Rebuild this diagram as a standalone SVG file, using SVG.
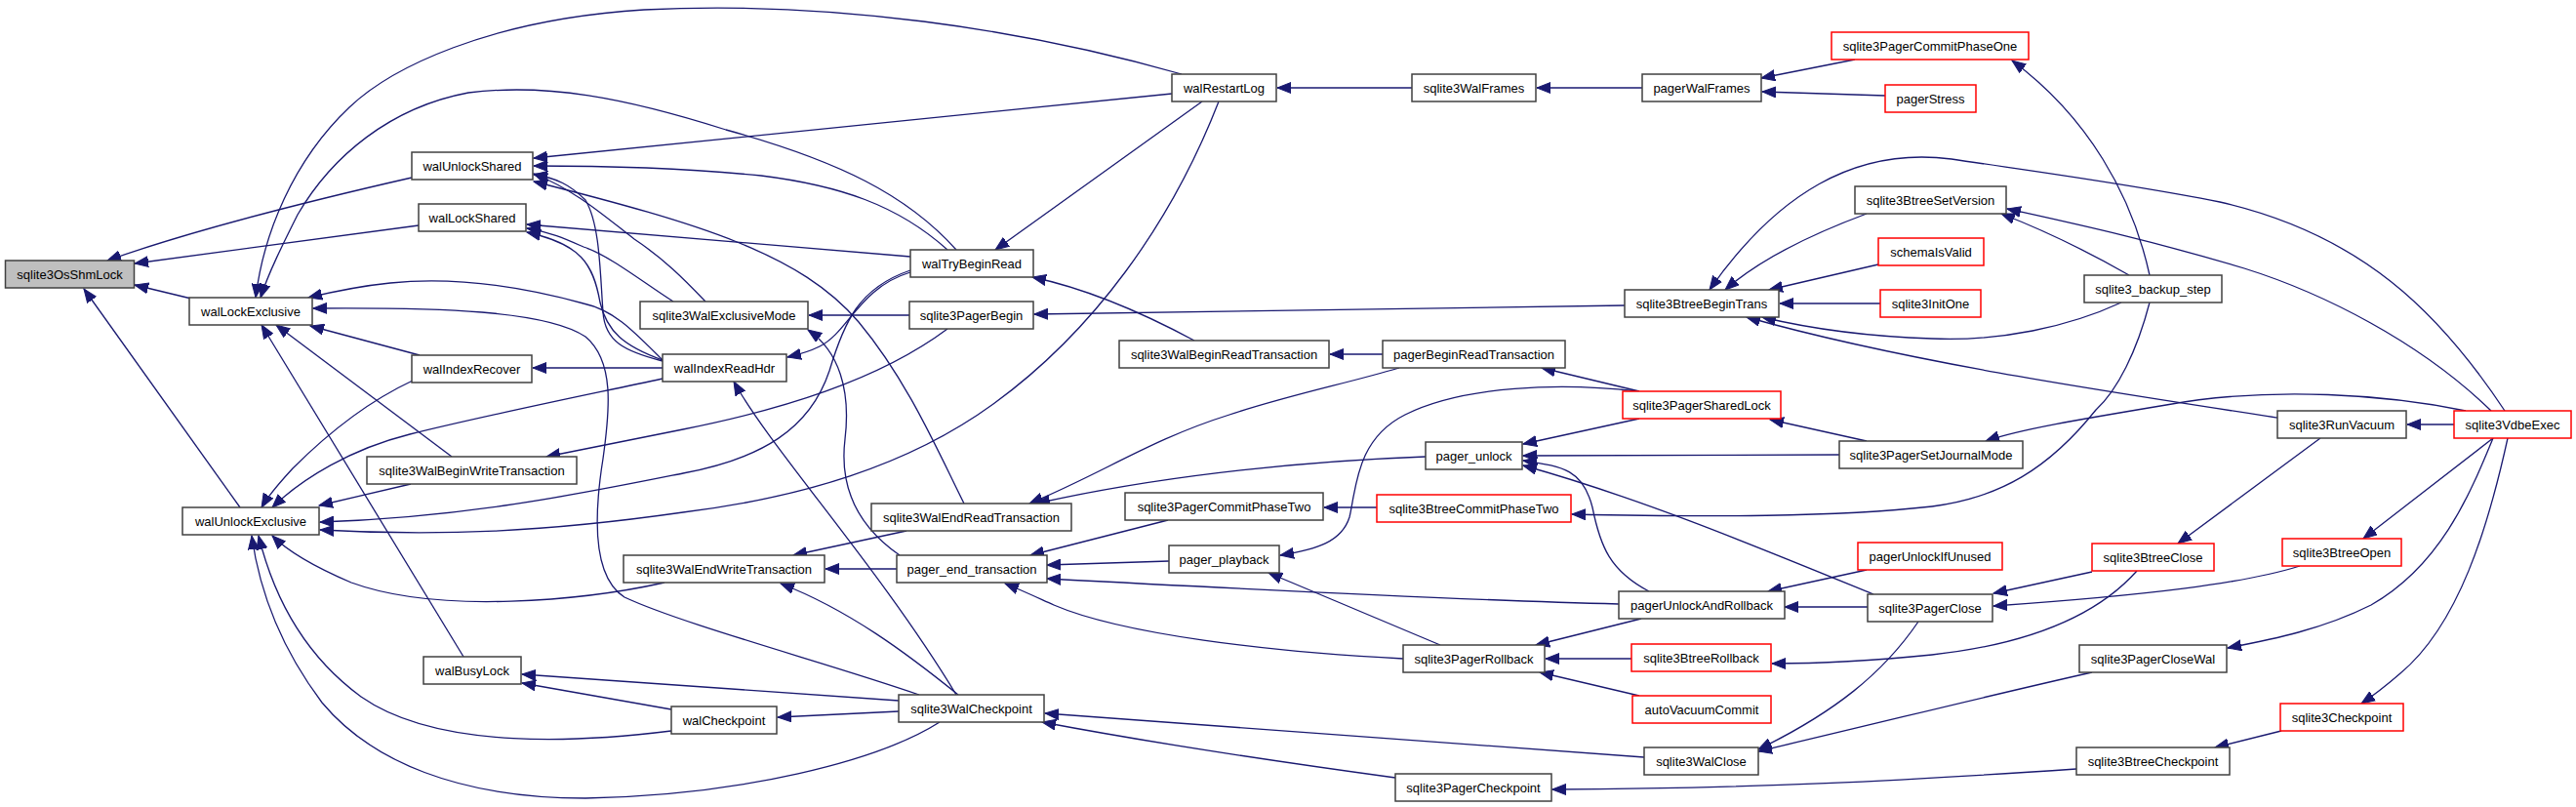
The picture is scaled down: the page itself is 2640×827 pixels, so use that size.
<svg xmlns="http://www.w3.org/2000/svg" width="2640" height="827" viewBox="0 0 2640 827">
<style>
.n rect{fill:#fff;stroke:#404040;stroke-width:1.5}
.r rect{stroke:#ff0000}
.g rect{fill:#bfbfbf}
.n text{font-family:"Liberation Sans",Arial,sans-serif;font-size:13px;fill:#000;text-anchor:middle}
.e path{fill:none;stroke:#191970;stroke-width:1.3;marker-end:url(#ah)}
</style>
<defs>
<marker id="ah" markerUnits="userSpaceOnUse" markerWidth="15" markerHeight="12" viewBox="0 0 15 12" refX="14" refY="6" orient="auto">
<path d="M0,0.5 L14,6 L0,11.5 Z" fill="#191970" stroke="#191970" stroke-width="1"/>
</marker>
</defs>
<rect width="2640" height="827" fill="#fff"/>
<g id="edges" class="e">
<path d="M422,182 C330,203 200,235 110,267"/>
<path d="M429,231 L138,270"/>
<path d="M196,306 L138,292"/>
<path d="M246,520 L86,296"/>
<path d="M1211,76 C1050,30 850,0 660,10 C500,20 400,70 358,110 C300,165 270,240 262,305"/>
<path d="M980,256 C930,200 860,165 744,133 C640,100 560,85 480,95 C400,110 340,160 305,220 C290,250 275,280 267,305"/>
<path d="M679,369 C650,340 630,318 598,311 C540,295 470,283 400,290 C370,293 345,298 316,305"/>
<path d="M942,712 C850,680 700,640 640,612 C605,590 610,520 618,470 C625,420 630,370 600,345 C560,318 450,315 321,316"/>
<path d="M430,364 L318,334"/>
<path d="M463,468 L283,333"/>
<path d="M475,673 L268,333"/>
<path d="M423,390 C380,410 340,440 300,480 C288,493 276,506 268,520"/>
<path d="M679,388 C600,405 500,425 420,445 C360,460 310,490 279,520"/>
<path d="M421,496 L327,518"/>
<path d="M933,277 C880,295 865,330 850,380 C830,440 780,470 700,485 C600,505 480,530 328,535"/>
<path d="M1249,104 C1200,230 1120,340 1018,414 C930,478 820,510 700,525 C560,545 450,550 328,543"/>
<path d="M681,597 C600,615 450,630 360,597 C320,580 295,565 279,549"/>
<path d="M688,749 C600,760 450,770 370,714 C310,670 280,610 265,549"/>
<path d="M963,740 C900,780 760,815 600,818 C470,818 380,780 330,720 C285,660 265,600 258,549"/>
<path d="M1201,96 L547,162"/>
<path d="M971,256 C920,210 860,190 780,180 C700,172 620,170 547,170"/>
<path d="M988,516 C960,460 930,390 880,330 C820,260 720,230 547,186"/>
<path d="M723,309 C700,285 680,265 650,245 C620,222 590,195 547,178"/>
<path d="M679,370 C640,360 620,350 618,320 C615,280 615,230 600,205 C585,190 570,182 547,179"/>
<path d="M933,263 L540,230"/>
<path d="M690,309 C660,290 625,262 598,253 C580,245 565,238 540,234"/>
<path d="M679,369 C640,355 622,340 615,310 C608,270 595,250 540,238"/>
<path d="M679,377 L546,377"/>
<path d="M933,279 C880,295 870,340 840,355 C830,360 820,363 807,366"/>
<path d="M980,712 C900,580 790,460 752,391"/>
<path d="M932,323 L829,323"/>
<path d="M922,569 C880,540 860,500 866,450 C872,400 860,360 828,338"/>
<path d="M971,337 C900,390 800,420 700,440 C640,452 600,460 560,468"/>
<path d="M919,583 L846,583"/>
<path d="M929,544 L813,569"/>
<path d="M982,712 C930,670 870,625 800,598"/>
<path d="M921,729 L797,735"/>
<path d="M921,718 L535,691"/>
<path d="M688,727 L535,700"/>
<path d="M1232,104 L1020,256"/>
<path d="M1224,349 C1170,320 1110,295 1058,284"/>
<path d="M1447,90 L1309,90"/>
<path d="M1683,90 L1575,90"/>
<path d="M1901,61 L1805,80"/>
<path d="M1932,98 L1806,94"/>
<path d="M2203,282 C2185,200 2140,120 2062,62"/>
<path d="M1665,313 L1060,322"/>
<path d="M2567,421 C2500,320 2420,240 2275,207 C2180,188 2080,175 2000,163 C1900,150 1820,200 1752,297"/>
<path d="M1913,219 C1870,235 1810,260 1768,297"/>
<path d="M1925,271 L1813,297"/>
<path d="M1927,311 L1824,311"/>
<path d="M2174,310 C2120,335 2050,350 1980,347 C1920,345 1860,338 1806,325"/>
<path d="M2334,428 C2150,400 1950,370 1790,325"/>
<path d="M2182,282 C2140,258 2100,238 2051,219"/>
<path d="M2553,421 C2480,350 2380,300 2300,275 C2200,245 2120,228 2057,214"/>
<path d="M1417,363 L1363,363"/>
<path d="M1680,401 L1580,377"/>
<path d="M1434,377 C1380,393 1320,405 1260,425 C1180,450 1130,485 1055,516"/>
<path d="M1461,468 C1350,472 1200,485 1062,516"/>
<path d="M1411,520 L1357,520"/>
<path d="M1197,533 L1056,569"/>
<path d="M1198,575 L1073,579"/>
<path d="M1659,619 C1500,615 1300,605 1073,593"/>
<path d="M1438,675 C1300,668 1150,650 1080,620 C1060,611 1045,604 1030,598"/>
<path d="M1678,401 C1600,392 1500,395 1440,425 C1390,450 1390,500 1383,530 C1375,555 1350,563 1312,569"/>
<path d="M1476,661 L1300,587"/>
<path d="M1913,452 L1814,430"/>
<path d="M1680,429 L1561,455"/>
<path d="M1885,466 L1561,467"/>
<path d="M1690,606 C1650,585 1640,560 1632,520 C1622,480 1600,478 1561,472"/>
<path d="M1920,609 C1800,560 1680,510 1561,477"/>
<path d="M2203,310 C2190,360 2170,400 2148,420 C2100,480 2050,510 1980,519 C1880,530 1750,530 1611,527"/>
<path d="M1913,584 L1812,606"/>
<path d="M1914,622 L1829,622"/>
<path d="M1682,634 L1574,661"/>
<path d="M1672,675 L1584,675"/>
<path d="M1680,713 L1578,689"/>
<path d="M2190,585 C2150,630 2080,660 1980,671 C1920,677 1870,680 1816,680"/>
<path d="M1966,637 C1930,690 1880,730 1802,768"/>
<path d="M2144,689 C2050,710 1950,735 1802,770"/>
<path d="M1685,776 C1500,762 1300,748 1071,731"/>
<path d="M1430,797 C1320,782 1200,765 1068,740"/>
<path d="M2128,788 C1950,800 1800,808 1591,809"/>
<path d="M2378,449 L2232,557"/>
<path d="M2515,435 L2467,435"/>
<path d="M2555,449 L2422,552"/>
<path d="M2555,449 C2530,510 2500,580 2430,620 C2380,645 2330,655 2283,664"/>
<path d="M2570,449 C2550,540 2520,640 2460,690 C2445,703 2432,713 2420,721"/>
<path d="M2144,586 L2043,608"/>
<path d="M2357,580 C2300,598 2200,610 2043,621"/>
<path d="M2338,749 L2270,766"/>
<path d="M2527,421 C2450,405 2330,395 2220,415 C2130,430 2070,440 2035,452"/>
</g>
<g id="n1" class="n g"><rect x="5.5" y="267" width="132" height="28"/><text x="71.5" y="286">sqlite3OsShmLock</text></g>
<g id="n2" class="n"><rect x="194" y="305" width="126" height="28"/><text x="257" y="324">walLockExclusive</text></g>
<g id="n3" class="n"><rect x="187" y="520" width="140" height="28"/><text x="257" y="539">walUnlockExclusive</text></g>
<g id="n4" class="n"><rect x="422" y="156" width="124" height="28"/><text x="484" y="175">walUnlockShared</text></g>
<g id="n5" class="n"><rect x="429" y="209" width="110" height="28"/><text x="484" y="228">walLockShared</text></g>
<g id="n6" class="n"><rect x="422" y="364" width="123" height="28"/><text x="483.5" y="383">walIndexRecover</text></g>
<g id="n7" class="n"><rect x="376" y="468" width="215" height="28"/><text x="483.5" y="487">sqlite3WalBeginWriteTransaction</text></g>
<g id="n8" class="n"><rect x="434" y="673" width="100" height="28"/><text x="484" y="692">walBusyLock</text></g>
<g id="n9" class="n"><rect x="656" y="309" width="172" height="28"/><text x="742" y="328">sqlite3WalExclusiveMode</text></g>
<g id="n10" class="n"><rect x="679" y="363" width="127" height="28"/><text x="742.5" y="382">walIndexReadHdr</text></g>
<g id="n11" class="n"><rect x="639" y="569" width="206" height="28"/><text x="742" y="588">sqlite3WalEndWriteTransaction</text></g>
<g id="n12" class="n"><rect x="688" y="724" width="108" height="28"/><text x="742" y="743">walCheckpoint</text></g>
<g id="n13" class="n"><rect x="933" y="256" width="126" height="28"/><text x="996" y="275">walTryBeginRead</text></g>
<g id="n14" class="n"><rect x="932" y="309" width="127" height="28"/><text x="995.5" y="328">sqlite3PagerBegin</text></g>
<g id="n15" class="n"><rect x="893" y="516" width="205" height="28"/><text x="995.5" y="535">sqlite3WalEndReadTransaction</text></g>
<g id="n16" class="n"><rect x="919" y="569" width="154" height="28"/><text x="996" y="588">pager_end_transaction</text></g>
<g id="n17" class="n"><rect x="921" y="712" width="149" height="28"/><text x="995.5" y="731">sqlite3WalCheckpoint</text></g>
<g id="n18" class="n"><rect x="1201" y="76" width="107" height="28"/><text x="1254.5" y="95">walRestartLog</text></g>
<g id="n19" class="n"><rect x="1147" y="349" width="215" height="28"/><text x="1254.5" y="368">sqlite3WalBeginReadTransaction</text></g>
<g id="n20" class="n"><rect x="1153" y="505" width="203" height="28"/><text x="1254.5" y="524">sqlite3PagerCommitPhaseTwo</text></g>
<g id="n21" class="n"><rect x="1198" y="559" width="113" height="28"/><text x="1254.5" y="578">pager_playback</text></g>
<g id="n22" class="n"><rect x="1447" y="76" width="127" height="28"/><text x="1510.5" y="95">sqlite3WalFrames</text></g>
<g id="n23" class="n"><rect x="1417" y="349" width="187" height="28"/><text x="1510.5" y="368">pagerBeginReadTransaction</text></g>
<g id="n24" class="n"><rect x="1461" y="453" width="99" height="28"/><text x="1510.5" y="472">pager_unlock</text></g>
<g id="n25" class="n r"><rect x="1411" y="507" width="199" height="28"/><text x="1510.5" y="526">sqlite3BtreeCommitPhaseTwo</text></g>
<g id="n26" class="n"><rect x="1438" y="661" width="145" height="28"/><text x="1510.5" y="680">sqlite3PagerRollback</text></g>
<g id="n27" class="n"><rect x="1430" y="793" width="160" height="28"/><text x="1510" y="812">sqlite3PagerCheckpoint</text></g>
<g id="n28" class="n"><rect x="1683" y="76" width="122" height="28"/><text x="1744" y="95">pagerWalFrames</text></g>
<g id="n29" class="n"><rect x="1665" y="297" width="158" height="28"/><text x="1744" y="316">sqlite3BtreeBeginTrans</text></g>
<g id="n30" class="n r"><rect x="1663" y="401" width="162" height="28"/><text x="1744" y="420">sqlite3PagerSharedLock</text></g>
<g id="n31" class="n"><rect x="1659" y="606" width="170" height="28"/><text x="1744" y="625">pagerUnlockAndRollback</text></g>
<g id="n32" class="n r"><rect x="1672" y="660" width="143" height="28"/><text x="1743.5" y="679">sqlite3BtreeRollback</text></g>
<g id="n33" class="n r"><rect x="1673" y="713" width="142" height="28"/><text x="1744" y="732">autoVacuumCommit</text></g>
<g id="n34" class="n"><rect x="1685" y="766" width="117" height="28"/><text x="1743.5" y="785">sqlite3WalClose</text></g>
<g id="n35" class="n r"><rect x="1877" y="33" width="202" height="28"/><text x="1978" y="52">sqlite3PagerCommitPhaseOne</text></g>
<g id="n36" class="n r"><rect x="1932" y="87" width="93" height="28"/><text x="1978.5" y="106">pagerStress</text></g>
<g id="n37" class="n"><rect x="1901" y="191" width="155" height="28"/><text x="1978.5" y="210">sqlite3BtreeSetVersion</text></g>
<g id="n38" class="n r"><rect x="1925" y="244" width="108" height="28"/><text x="1979" y="263">schemaIsValid</text></g>
<g id="n39" class="n r"><rect x="1927" y="297" width="103" height="28"/><text x="1978.5" y="316">sqlite3InitOne</text></g>
<g id="n40" class="n"><rect x="1885" y="452" width="188" height="28"/><text x="1979" y="471">sqlite3PagerSetJournalMode</text></g>
<g id="n41" class="n r"><rect x="1904" y="556" width="148" height="28"/><text x="1978" y="575">pagerUnlockIfUnused</text></g>
<g id="n42" class="n"><rect x="1914" y="609" width="128" height="28"/><text x="1978" y="628">sqlite3PagerClose</text></g>
<g id="n43" class="n"><rect x="2136" y="282" width="141" height="28"/><text x="2206.5" y="301">sqlite3_backup_step</text></g>
<g id="n44" class="n r"><rect x="2144" y="557" width="125" height="28"/><text x="2206.5" y="576">sqlite3BtreeClose</text></g>
<g id="n45" class="n"><rect x="2131" y="661" width="151" height="28"/><text x="2206.5" y="680">sqlite3PagerCloseWal</text></g>
<g id="n46" class="n"><rect x="2128" y="766" width="157" height="28"/><text x="2206.5" y="785">sqlite3BtreeCheckpoint</text></g>
<g id="n47" class="n"><rect x="2334" y="421" width="132" height="28"/><text x="2400" y="440">sqlite3RunVacuum</text></g>
<g id="n48" class="n r"><rect x="2339" y="552" width="122" height="28"/><text x="2400" y="571">sqlite3BtreeOpen</text></g>
<g id="n49" class="n r"><rect x="2337" y="721" width="126" height="28"/><text x="2400" y="740">sqlite3Checkpoint</text></g>
<g id="n50" class="n r"><rect x="2515" y="421" width="120" height="28"/><text x="2575" y="440">sqlite3VdbeExec</text></g>
</svg>
